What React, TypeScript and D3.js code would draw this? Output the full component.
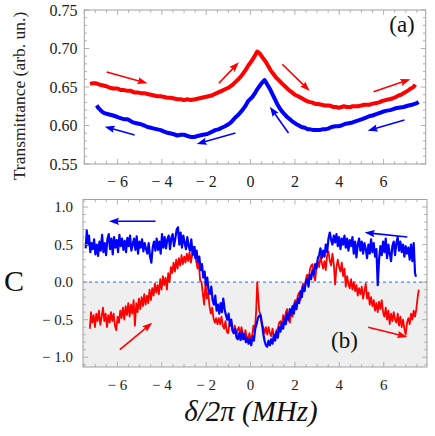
import React from 'react';
import * as d3 from 'd3';

// ---------- data ----------
const xTicks = [-6, -4, -2, 0, 2, 4, 6];
const topYTicks = [0.55, 0.6, 0.65, 0.7, 0.75];
const botYTicks = [-1.0, -0.5, 0.0, 0.5, 1.0];

// Transmittance, forward sweep (red) and backward sweep (blue)
const redTop: [number, number][] = [
  [-7.24, 0.654], [-7.1, 0.655], [-7.0, 0.655], [-6.9, 0.654], [-6.8, 0.653], [-6.65, 0.652], [-6.5, 0.651],
  [-6.35, 0.649], [-6.2, 0.648], [-6.0, 0.648], [-5.85, 0.646], [-5.7, 0.646], [-5.55, 0.645], [-5.4, 0.645],
  [-5.25, 0.643], [-5.1, 0.643], [-4.95, 0.642], [-4.8, 0.642], [-4.65, 0.641], [-4.5, 0.640], [-4.35, 0.639],
  [-4.2, 0.638], [-4.05, 0.638], [-3.9, 0.637], [-3.75, 0.636], [-3.6, 0.636], [-3.45, 0.635], [-3.3, 0.634],
  [-3.15, 0.634], [-3.0, 0.633], [-2.85, 0.634], [-2.7, 0.633], [-2.5, 0.634], [-2.35, 0.635], [-2.2, 0.636],
  [-2.05, 0.637], [-1.9, 0.638], [-1.75, 0.639], [-1.6, 0.641], [-1.45, 0.643], [-1.3, 0.645], [-1.15, 0.647],
  [-1.0, 0.649], [-0.85, 0.652], [-0.7, 0.656], [-0.55, 0.660], [-0.4, 0.665], [-0.25, 0.671], [-0.1, 0.678],
  [0.08, 0.685], [0.2, 0.691], [0.3, 0.696], [0.4, 0.694], [0.55, 0.688], [0.68, 0.683], [0.8, 0.677],
  [0.9, 0.672], [1.0, 0.668], [1.13, 0.663], [1.27, 0.659], [1.4, 0.655], [1.55, 0.651], [1.73, 0.646],
  [1.87, 0.643], [2.0, 0.640], [2.15, 0.638], [2.33, 0.635], [2.45, 0.633], [2.6, 0.631], [2.75, 0.630],
  [2.93, 0.628], [3.05, 0.628], [3.2, 0.627], [3.35, 0.626], [3.53, 0.626], [3.65, 0.625], [3.75, 0.624],
  [3.88, 0.624], [3.98, 0.623], [4.1, 0.624], [4.2, 0.625], [4.35, 0.624], [4.5, 0.624], [4.6, 0.625],
  [4.73, 0.625], [4.85, 0.625], [5.0, 0.626], [5.12, 0.627], [5.25, 0.627], [5.35, 0.627], [5.48, 0.628],
  [5.62, 0.629], [5.8, 0.630], [5.95, 0.632], [6.08, 0.633], [6.25, 0.634], [6.4, 0.635], [6.55, 0.637],
  [6.68, 0.639], [6.8, 0.640], [6.9, 0.642], [7.02, 0.644], [7.13, 0.646], [7.22, 0.648], [7.3, 0.649],
  [7.38, 0.651], [7.43, 0.653],
];
const blueTop: [number, number][] = [
  [-6.94, 0.626], [-6.87, 0.623], [-6.8, 0.621], [-6.7, 0.618], [-6.6, 0.616], [-6.46, 0.615], [-6.33, 0.614],
  [-6.2, 0.613], [-6.1, 0.612], [-6.0, 0.611], [-5.9, 0.610], [-5.8, 0.609], [-5.67, 0.608], [-5.55, 0.608],
  [-5.42, 0.606], [-5.3, 0.604], [-5.15, 0.603], [-5.0, 0.602], [-4.9, 0.601], [-4.8, 0.600], [-4.65, 0.598],
  [-4.5, 0.597], [-4.35, 0.596], [-4.2, 0.595], [-4.05, 0.594], [-3.9, 0.592], [-3.8, 0.591], [-3.65, 0.590],
  [-3.5, 0.589], [-3.4, 0.588], [-3.3, 0.587], [-3.15, 0.588], [-3.0, 0.588], [-2.9, 0.587], [-2.8, 0.586],
  [-2.68, 0.585], [-2.55, 0.585], [-2.42, 0.586], [-2.3, 0.587], [-2.15, 0.588], [-1.95, 0.589], [-1.8, 0.591],
  [-1.6, 0.594], [-1.45, 0.595], [-1.3, 0.597], [-1.15, 0.599], [-0.98, 0.602], [-0.85, 0.605], [-0.7, 0.610],
  [-0.55, 0.614], [-0.37, 0.620], [-0.22, 0.626], [-0.1, 0.632], [0.08, 0.637], [0.2, 0.642], [0.3, 0.647],
  [0.4, 0.651], [0.5, 0.655], [0.63, 0.659], [0.72, 0.655], [0.8, 0.651], [0.9, 0.646], [0.98, 0.641],
  [1.05, 0.637], [1.12, 0.633], [1.2, 0.628], [1.3, 0.623], [1.4, 0.619], [1.52, 0.615], [1.65, 0.611],
  [1.78, 0.608], [1.9, 0.605], [2.05, 0.602], [2.18, 0.600], [2.3, 0.598], [2.45, 0.597], [2.58, 0.595],
  [2.7, 0.595], [2.85, 0.594], [3.0, 0.594], [3.12, 0.594], [3.23, 0.595], [3.35, 0.595], [3.5, 0.596],
  [3.65, 0.598], [3.83, 0.599], [3.95, 0.599], [4.1, 0.600], [4.25, 0.602], [4.43, 0.603], [4.6, 0.604],
  [4.8, 0.606], [5.0, 0.608], [5.18, 0.610], [5.35, 0.612], [5.5, 0.613], [5.7, 0.615], [5.93, 0.6175],
  [6.1, 0.619], [6.3, 0.620], [6.5, 0.622], [6.68, 0.623], [6.9, 0.624], [7.13, 0.626], [7.28, 0.627],
  [7.4, 0.628], [7.5, 0.629], [7.58, 0.6305],
];

// Correlation C, forward (red) and backward (blue)
const redC: [number, number][] = [
  [-7.24, -0.62], [-7.19, -0.40], [-7.13, -0.54], [-7.07, -0.44], [-7.01, -0.60], [-6.95, -0.42], [-6.89, -0.52],
  [-6.83, -0.38], [-6.77, -0.57], [-6.71, -0.46], [-6.65, -0.34], [-6.59, -0.52], [-6.53, -0.42], [-6.47, -0.60],
  [-6.41, -0.44], [-6.35, -0.54], [-6.29, -0.40], [-6.23, -0.52], [-6.17, -0.42], [-6.11, -0.58], [-6.05, -0.64],
  [-5.99, -0.46], [-5.93, -0.54], [-5.87, -0.38], [-5.81, -0.48], [-5.75, -0.34], [-5.69, -0.50], [-5.63, -0.32],
  [-5.57, -0.44], [-5.51, -0.28], [-5.45, -0.46], [-5.39, -0.30], [-5.33, -0.42], [-5.27, -0.24], [-5.21, -0.58],
  [-5.15, -0.28], [-5.09, -0.40], [-5.03, -0.22], [-4.97, -0.36], [-4.91, -0.20], [-4.85, -0.32], [-4.79, -0.16],
  [-4.73, -0.30], [-4.67, -0.18], [-4.61, -0.28], [-4.55, -0.10], [-4.49, -0.24], [-4.43, -0.08], [-4.37, -0.18],
  [-4.31, -0.02], [-4.25, -0.14], [-4.19, -0.04], [-4.13, -0.16], [-4.07, 0.04], [-4.01, -0.10], [-3.95, 0.08],
  [-3.89, -0.04], [-3.83, 0.06], [-3.77, -0.10], [-3.71, 0.12], [-3.65, 0.00], [-3.59, 0.20], [-3.53, 0.12],
  [-3.47, 0.26], [-3.41, 0.14], [-3.35, 0.30], [-3.29, 0.18], [-3.23, 0.32], [-3.17, 0.22], [-3.11, 0.36],
  [-3.05, 0.24], [-2.99, 0.34], [-2.93, 0.26], [-2.87, 0.38], [-2.81, 0.28], [-2.75, 0.40], [-2.69, 0.26],
  [-2.63, 0.36], [-2.57, 0.44], [-2.51, 0.47], [-2.45, 0.28], [-2.39, 0.18], [-2.33, 0.24], [-2.27, 0.02],
  [-2.21, 0.00], [-2.15, -0.16], [-2.09, -0.30], [-2.03, 0.00], [-1.97, -0.22], [-1.91, -0.14], [-1.85, -0.32],
  [-1.79, -0.42], [-1.73, -0.34], [-1.67, -0.48], [-1.61, -0.54], [-1.55, -0.48], [-1.49, -0.56], [-1.43, -0.48],
  [-1.37, -0.56], [-1.31, -0.46], [-1.25, -0.58], [-1.19, -0.62], [-1.13, -0.52], [-1.07, -0.66], [-1.01, -0.68],
  [-0.95, -0.56], [-0.89, -0.52], [-0.83, -0.64], [-0.77, -0.68], [-0.71, -0.58], [-0.65, -0.72], [-0.59, -0.64],
  [-0.53, -0.60], [-0.47, -0.70], [-0.41, -0.60], [-0.35, -0.68], [-0.29, -0.72], [-0.23, -0.64], [-0.17, -0.74],
  [-0.11, -0.76], [-0.05, -0.68], [0.01, -0.78], [0.07, -0.72], [0.13, -0.58], [0.19, -0.66], [0.25, -0.40],
  [0.30, 0.00], [0.34, -0.18], [0.39, -0.38], [0.45, -0.44], [0.51, -0.58], [0.57, -0.60], [0.63, -0.68],
  [0.69, -0.60], [0.75, -0.70], [0.81, -0.60], [0.87, -0.68], [0.93, -0.72], [0.99, -0.62], [1.05, -0.72],
  [1.11, -0.74], [1.17, -0.64], [1.23, -0.62], [1.29, -0.54], [1.35, -0.52], [1.41, -0.62], [1.47, -0.44],
  [1.53, -0.52], [1.59, -0.40], [1.65, -0.36], [1.71, -0.50], [1.77, -0.54], [1.83, -0.38], [1.89, -0.46],
  [1.95, -0.30], [2.01, -0.24], [2.07, -0.32], [2.13, -0.18], [2.19, -0.14], [2.25, -0.24], [2.31, -0.08],
  [2.37, -0.02], [2.43, -0.12], [2.49, 0.04], [2.55, 0.10], [2.61, 0.02], [2.67, 0.16], [2.73, 0.22],
  [2.79, 0.24], [2.85, 0.08], [2.91, 0.02], [2.97, 0.20], [3.03, 0.28], [3.09, 0.20], [3.15, 0.34],
  [3.21, 0.26], [3.27, 0.18], [3.33, 0.28], [3.39, 0.16], [3.45, 0.36], [3.51, 0.41], [3.57, 0.28],
  [3.63, 0.22], [3.69, 0.38], [3.75, 0.24], [3.81, -0.03], [3.87, 0.20], [3.93, 0.30], [3.99, 0.20],
  [4.05, 0.14], [4.11, 0.26], [4.17, 0.08], [4.23, 0.18], [4.29, -0.06], [4.35, 0.08], [4.41, -0.02],
  [4.47, -0.08], [4.53, 0.04], [4.59, -0.10], [4.65, 0.00], [4.71, -0.12], [4.77, -0.04], [4.83, -0.18],
  [4.89, -0.08], [4.95, -0.16], [5.01, -0.06], [5.07, -0.22], [5.13, -0.12], [5.19, -0.02], [5.25, -0.22],
  [5.31, -0.14], [5.37, -0.30], [5.43, -0.20], [5.49, -0.32], [5.55, -0.24], [5.61, -0.38], [5.67, -0.28],
  [5.73, -0.40], [5.79, -0.26], [5.85, -0.36], [5.91, -0.24], [5.97, -0.40], [6.03, -0.46], [6.09, -0.34],
  [6.15, -0.50], [6.21, -0.38], [6.27, -0.56], [6.33, -0.42], [6.39, -0.52], [6.45, -0.40], [6.51, -0.50],
  [6.57, -0.54], [6.63, -0.42], [6.69, -0.58], [6.75, -0.46], [6.81, -0.60], [6.87, -0.50], [6.93, -0.62],
  [6.99, -0.70], [7.05, -0.54], [7.11, -0.48], [7.17, -0.56], [7.23, -0.42], [7.29, -0.50], [7.35, -0.38],
  [7.41, -0.46], [7.47, -0.36], [7.53, -0.20], [7.58, -0.10],
];
const blueC: [number, number][] = [
  [-7.43, 0.45], [-7.38, 0.69], [-7.33, 0.50], [-7.28, 0.62], [-7.22, 0.40], [-7.17, 0.52], [-7.11, 0.44],
  [-7.05, 0.57], [-6.99, 0.37], [-6.93, 0.50], [-6.87, 0.35], [-6.81, 0.54], [-6.75, 0.42], [-6.69, 0.63],
  [-6.63, 0.40], [-6.57, 0.52], [-6.51, 0.36], [-6.45, 0.57], [-6.39, 0.64], [-6.33, 0.44], [-6.27, 0.58],
  [-6.21, 0.37], [-6.15, 0.60], [-6.09, 0.46], [-6.03, 0.56], [-5.97, 0.40], [-5.91, 0.63], [-5.85, 0.48],
  [-5.79, 0.58], [-5.73, 0.43], [-5.67, 0.55], [-5.61, 0.40], [-5.55, 0.59], [-5.49, 0.48], [-5.43, 0.62],
  [-5.37, 0.42], [-5.31, 0.50], [-5.25, 0.58], [-5.19, 0.43], [-5.13, 0.61], [-5.07, 0.38], [-5.01, 0.54],
  [-4.95, 0.46], [-4.89, 0.57], [-4.83, 0.41], [-4.77, 0.52], [-4.71, 0.44], [-4.65, 0.38], [-4.59, 0.52],
  [-4.53, 0.34], [-4.47, 0.26], [-4.41, 0.46], [-4.35, 0.54], [-4.29, 0.42], [-4.23, 0.58], [-4.17, 0.43],
  [-4.11, 0.54], [-4.05, 0.38], [-3.99, 0.64], [-3.93, 0.46], [-3.87, 0.60], [-3.81, 0.45], [-3.75, 0.57],
  [-3.69, 0.62], [-3.63, 0.44], [-3.57, 0.59], [-3.51, 0.64], [-3.45, 0.48], [-3.39, 0.58], [-3.33, 0.70],
  [-3.27, 0.73], [-3.21, 0.50], [-3.15, 0.66], [-3.09, 0.46], [-3.03, 0.62], [-2.97, 0.52], [-2.91, 0.44],
  [-2.85, 0.60], [-2.79, 0.48], [-2.73, 0.42], [-2.67, 0.57], [-2.61, 0.36], [-2.55, 0.47], [-2.49, 0.32],
  [-2.43, 0.42], [-2.37, 0.26], [-2.31, 0.34], [-2.25, 0.16], [-2.19, 0.24], [-2.13, 0.06], [-2.07, 0.14],
  [-2.01, -0.04], [-1.95, 0.06], [-1.89, -0.12], [-1.83, -0.16], [-1.77, -0.06], [-1.71, -0.24], [-1.65, -0.30],
  [-1.59, -0.18], [-1.53, -0.38], [-1.47, -0.30], [-1.41, -0.42], [-1.35, -0.28], [-1.29, -0.40], [-1.23, -0.22],
  [-1.17, -0.36], [-1.11, -0.44], [-1.05, -0.50], [-0.99, -0.42], [-0.93, -0.58], [-0.87, -0.50], [-0.81, -0.64],
  [-0.75, -0.68], [-0.69, -0.62], [-0.63, -0.74], [-0.57, -0.76], [-0.51, -0.68], [-0.45, -0.77], [-0.39, -0.66],
  [-0.33, -0.76], [-0.27, -0.70], [-0.21, -0.80], [-0.15, -0.74], [-0.09, -0.82], [-0.03, -0.76], [0.03, -0.84],
  [0.09, -0.72], [0.15, -0.78], [0.21, -0.62], [0.27, -0.56], [0.33, -0.48], [0.39, -0.45], [0.45, -0.44],
  [0.51, -0.54], [0.57, -0.68], [0.63, -0.78], [0.69, -0.84], [0.75, -0.86], [0.81, -0.78], [0.87, -0.84],
  [0.93, -0.76], [0.99, -0.82], [1.05, -0.70], [1.11, -0.78], [1.17, -0.66], [1.23, -0.74], [1.29, -0.60],
  [1.35, -0.66], [1.41, -0.54], [1.47, -0.62], [1.53, -0.48], [1.59, -0.56], [1.65, -0.42], [1.71, -0.50],
  [1.77, -0.36], [1.83, -0.44], [1.89, -0.32], [1.95, -0.42], [2.01, -0.28], [2.07, -0.36], [2.13, -0.22],
  [2.19, -0.28], [2.25, -0.12], [2.31, -0.20], [2.37, -0.06], [2.43, -0.12], [2.49, 0.00], [2.55, 0.04],
  [2.61, -0.06], [2.67, 0.10], [2.73, 0.04], [2.79, 0.16], [2.85, 0.10], [2.91, 0.24], [2.97, 0.18],
  [3.03, 0.32], [3.09, 0.36], [3.15, 0.45], [3.21, 0.32], [3.27, 0.42], [3.33, 0.34], [3.39, 0.50],
  [3.45, 0.40], [3.51, 0.58], [3.57, 0.66], [3.63, 0.56], [3.69, 0.50], [3.75, 0.62], [3.81, 0.53],
  [3.87, 0.64], [3.93, 0.48], [3.99, 0.60], [4.05, 0.44], [4.11, 0.58], [4.17, 0.50], [4.23, 0.62],
  [4.29, 0.46], [4.35, 0.58], [4.41, 0.42], [4.47, 0.56], [4.53, 0.48], [4.59, 0.60], [4.65, 0.38],
  [4.71, 0.54], [4.77, 0.33], [4.83, 0.50], [4.89, 0.58], [4.95, 0.42], [5.01, 0.54], [5.07, 0.38],
  [5.13, 0.52], [5.19, 0.44], [5.25, 0.32], [5.31, 0.50], [5.37, 0.38], [5.43, 0.57], [5.49, 0.40],
  [5.55, 0.52], [5.61, 0.34], [5.67, 0.44], [5.73, -0.04], [5.79, 0.30], [5.85, 0.48], [5.91, 0.36],
  [5.97, 0.54], [6.03, 0.40], [6.09, 0.58], [6.15, 0.32], [6.21, 0.50], [6.27, 0.38], [6.33, 0.28],
  [6.39, 0.48], [6.45, 0.54], [6.51, 0.36], [6.57, 0.52], [6.63, 0.60], [6.69, 0.42], [6.75, 0.54],
  [6.81, 0.40], [6.87, 0.50], [6.93, 0.34], [6.99, 0.48], [7.05, 0.38], [7.11, 0.46], [7.17, 0.30],
  [7.23, 0.50], [7.29, 0.28], [7.35, 0.52], [7.41, 0.12], [7.45, 0.07],
];

// Sweep-direction arrows: [x1, y1, x2, y2, colour] in data units
const topArrows: [number, number, number, number, string][] = [
  [-6.49, 0.6695, -4.65, 0.6548, 'red'],
  [-5.23, 0.5877, -6.58, 0.5985, 'blue'],
  [-0.68, 0.5903, -2.43, 0.576, 'blue'],
  [-1.43, 0.6548, -0.53, 0.682, 'red'],
  [1.43, 0.6795, 2.67, 0.6448, 'red'],
  [1.71, 0.5903, 0.87, 0.6244, 'blue'],
  [5.55, 0.6439, 7.21, 0.66, 'red'],
  [6.94, 0.6071, 5.28, 0.5932, 'blue'],
];
const botArrows: [number, number, number, number, string][] = [
  [-4.28, 0.81, -6.38, 0.81, 'blue'],
  [-5.89, -0.9, -4.43, -0.54, 'red'],
  [7.06, 0.6, 5.14, 0.66, 'blue'],
  [5.3, -0.6, 7.06, -0.73, 'red'],
];

// ---------- helpers ----------
const SERIF = "'Liberation Serif', 'DejaVu Serif', serif";
const RED = '#ff0000';
const BLUE = '#0000ff';
const FRAME = '#a0a0a0';

const fmtX = (v: number) => (v < 0 ? `\u2212 ${Math.abs(v)}` : `${v}`);
const fmtC = (v: number) => (v < 0 ? `\u2212 ${Math.abs(v).toFixed(1)}` : v.toFixed(1));

function Arrow({ x1, y1, x2, y2, color }: { x1: number; y1: number; x2: number; y2: number; color: string }) {
  const dx = x2 - x1, dy = y2 - y1;
  const len = Math.hypot(dx, dy);
  const ux = dx / len, uy = dy / len;
  const hl = 10, hw = 3.6;
  const bx = x2 - ux * hl, by = y2 - uy * hl;
  const pts = [
    [x2, y2],
    [bx - uy * hw, by + ux * hw],
    [bx + ux * 1.5, by + uy * 1.5],
    [bx + uy * hw, by - ux * hw],
  ].map((p) => p.join(',')).join(' ');
  return (
    <g>
      <line x1={x1} y1={y1} x2={bx + ux * 2} y2={by + uy * 2} stroke={color} strokeWidth={1.6} />
      <polygon points={pts} fill={color} />
    </g>
  );
}

function Frame({ x, y, xMajor, xMinor, yMajor, yMinor }: any) {
  const [x0, x1] = x.range();
  const [y0, y1] = y.range(); // y0 bottom, y1 top
  const M = 5, m = 2.8;
  const els: any[] = [];
  xMinor.forEach((v: number, i: number) => {
    const px = x(v);
    const L = xMajor.includes(v) ? M : m;
    els.push(<line key={`xb${i}`} x1={px} x2={px} y1={y0} y2={y0 - L} />);
    els.push(<line key={`xt${i}`} x1={px} x2={px} y1={y1} y2={y1 + L} />);
  });
  yMinor.forEach((v: number, i: number) => {
    const py = y(v);
    const L = yMajor.some((t: number) => Math.abs(t - v) < 1e-6) ? M : m;
    els.push(<line key={`yl${i}`} x1={x0} x2={x0 + L} y1={py} y2={py} />);
    els.push(<line key={`yr${i}`} x1={x1} x2={x1 - L} y1={py} y2={py} />);
  });
  return (
    <g stroke={FRAME} strokeWidth={0.8} fill="none">
      {els}
      <rect x={x0} y={y1} width={x1 - x0} height={y0 - y1} strokeWidth={1} />
    </g>
  );
}

export default function App() {
  // top panel scales
  const xT = d3.scaleLinear().domain([-7.5, 7.9]).range([84.3, 425.7]);
  const yT = d3.scaleLinear().domain([0.55, 0.75]).range([164, 10]);
  // bottom panel scales
  const xB = d3.scaleLinear().domain([-7.55, 7.95]).range([83, 427]);
  const yB = d3.scaleLinear().domain([-1.13, 1.1]).range([367, 199.5]);

  const lineT = d3.line<[number, number]>().x((d) => xT(d[0])).y((d) => yT(d[1])).curve(d3.curveLinear);
  const lineB = d3.line<[number, number]>().x((d) => xB(d[0])).y((d) => yB(d[1]));

  const xMinor = d3.range(-7.5, 7.51, 0.5);
  const yMinorT = d3.range(0, 21).map((i) => 0.55 + i * 0.01);
  const yMinorB = d3.range(-11, 12).map((i) => i / 10);

  const txt = { fontFamily: SERIF };

  return (
    <svg width={435} height={436} style={{ position: 'absolute', left: 0, top: 0, background: '#fff', fontFamily: SERIF }}>
      {/* ----- top panel ----- */}
      <Frame x={xT} y={yT} xMajor={xTicks} xMinor={xMinor} yMajor={topYTicks} yMinor={yMinorT} />
      {topYTicks.map((v) => (
        <text key={v} x={77.5} y={yT(v)} dy="0.35em" textAnchor="end" fontSize={16} fill="#222" style={txt}>
          {v.toFixed(2)}
        </text>
      ))}
      {xTicks.map((v) => (
        <text key={v} x={xT(v)} y={187} textAnchor="middle" fontSize={16} fill="#222" style={txt}>{fmtX(v)}</text>
      ))}
      <text transform="translate(25,96) rotate(-90)" textAnchor="middle" fontSize={17.5} fill="#222" style={txt}>
        Transmittance (arb. un.)
      </text>
      <path d={lineT(redTop) || ''} fill="none" stroke={RED} strokeWidth={4} strokeLinejoin="round" />
      <path d={lineT(blueTop) || ''} fill="none" stroke={BLUE} strokeWidth={4} strokeLinejoin="round" />
      {topArrows.map((a, i) => (
        <Arrow key={i} x1={xT(a[0])} y1={yT(a[1])} x2={xT(a[2])} y2={yT(a[3])} color={a[4] === 'red' ? RED : BLUE} />
      ))}
      <text x={402} y={32} textAnchor="middle" fontSize={23} fill="#111" style={txt}>(a)</text>

      {/* ----- bottom panel ----- */}
      <rect x={xB.range()[0]} y={yB(0)} width={xB.range()[1] - xB.range()[0]} height={yB.range()[0] - yB(0)} fill="#efefef" />
      <line x1={xB.range()[0]} x2={xB.range()[1]} y1={yB(0)} y2={yB(0)} stroke="#4f86e8" strokeWidth={1.3} strokeDasharray="3,3" />
      <path d={lineB(redC) || ''} fill="none" stroke={RED} strokeWidth={1.8} strokeLinejoin="round" />
      <path d={lineB(blueC) || ''} fill="none" stroke={BLUE} strokeWidth={2.2} strokeLinejoin="round" />
      <Frame x={xB} y={yB} xMajor={xTicks} xMinor={xMinor} yMajor={botYTicks} yMinor={yMinorB} />
      {botYTicks.map((v) => (
        <text key={v} x={73} y={yB(v)} dy="0.35em" textAnchor="end" fontSize={15} fill="#222" style={txt}>{fmtC(v)}</text>
      ))}
      {xTicks.map((v) => (
        <text key={v} x={xB(v)} y={390} textAnchor="middle" fontSize={15} fill="#222" style={txt}>{fmtX(v)}</text>
      ))}
      {botArrows.map((a, i) => (
        <Arrow key={i} x1={xB(a[0])} y1={yB(a[1])} x2={xB(a[2])} y2={yB(a[3])} color={a[4] === 'red' ? RED : BLUE} />
      ))}
      <text x={344.5} y={348} textAnchor="middle" fontSize={23} fill="#111" style={txt}>(b)</text>
      <text x={14} y={291} textAnchor="middle" fontSize={30} fill="#111" style={txt}>C</text>
      <text x={251} y={421} textAnchor="middle" fontSize={29} fontStyle="italic" fill="#111" style={txt}>δ/2π (MHz)</text>
    </svg>
  );
}
